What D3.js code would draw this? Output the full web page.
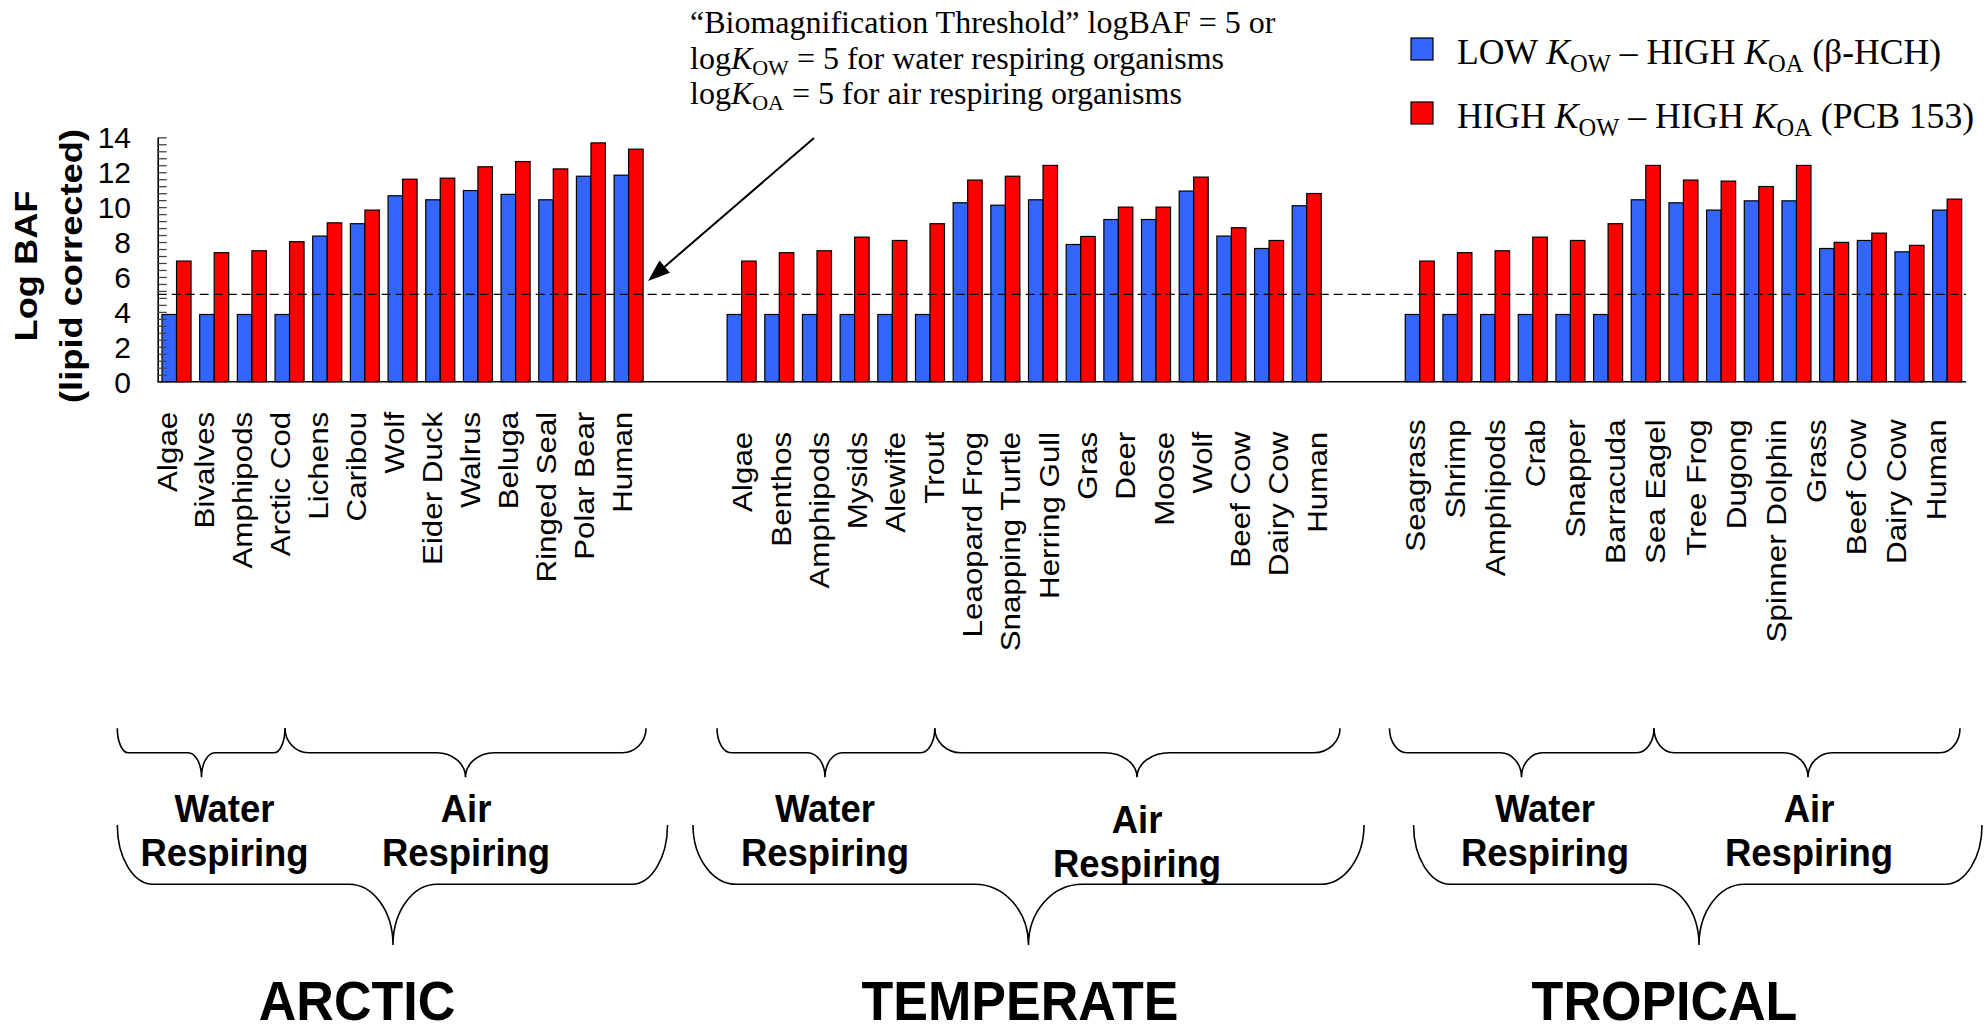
<!DOCTYPE html>
<html><head><meta charset="utf-8">
<script src="https://cdn.jsdelivr.net/npm/d3@7"></script>
<style>body{margin:0;background:#fff} svg{display:block}</style>
</head><body>
<svg id="c" width="1986" height="1032"></svg>
<script>
// ---------------- DATA ----------------
const arcticLabels = ["Algae","Bivalves","Amphipods","Arctic Cod","Lichens","Caribou","Wolf","Eider Duck","Walrus","Beluga","Ringed Seal","Polar Bear","Human"];
const arcticLow  = [3.85,3.85,3.85,3.85,8.34,9.05,10.65,10.42,10.95,10.73,10.42,11.77,11.83];
const arcticHigh = [6.91,7.39,7.50,8.02,9.10,9.83,11.60,11.66,12.31,12.61,12.19,13.68,13.32];

const temperateLabels = ["Algae","Benthos","Amphipods","Mysids","Alewife","Trout","Leaopard Frog","Snapping Turtle","Herring Gull","Gras","Deer","Moose","Wolf","Beef Cow","Dairy Cow","Human"];
const temperateLow  = [3.85,3.85,3.85,3.85,3.85,3.85,10.25,10.11,10.42,7.86,9.29,9.29,10.92,8.34,7.63,10.08];
const temperateHigh = [6.91,7.39,7.50,8.28,8.09,9.05,11.55,11.77,12.39,8.32,10.00,10.00,11.72,8.82,8.09,10.78];

const tropicalLabels = ["Seagrass","Shrimp","Amphipods","Crab","Snapper","Barracuda","Sea Eagel","Tree Frog","Dugong","Spinner Dolphin","Grass","Beef Cow","Dairy Cow","Human"];
const tropicalLow  = [3.85,3.85,3.85,3.85,3.85,3.85,10.42,10.25,9.83,10.36,10.36,7.63,8.09,7.44,9.83];
const tropicalHigh = [6.91,7.39,7.50,8.28,8.09,9.05,12.39,11.55,11.49,11.18,12.39,7.98,8.51,7.81,10.46];

const regionNames = ["ARCTIC","TEMPERATE","TROPICAL"];
const respirationNames = [["Water","Respiring"],["Air","Respiring"]];
const yTickValues = [0,2,4,6,8,10,12,14];
const threshold = 5;
const legendLow  = [["LOW ",""],["K","i"],["OW","sub"],[" – HIGH ",""],["K","i"],["OA","sub"],[" (β-HCH)",""]];
const legendHigh = [["HIGH ",""],["K","i"],["OW","sub"],[" – HIGH ",""],["K","i"],["OA","sub"],[" (PCB 153)",""]];
const noteLines = [
  [["“Biomagnification Threshold” logBAF = 5 or",""]],
  [["log",""],["K","i"],["OW","sub"],[" = 5 for water respiring organisms",""]],
  [["log",""],["K","i"],["OA","sub"],[" = 5 for air respiring organisms",""]]
];

// ---------------- SETUP ----------------
const SANS = "'Liberation Sans', Arial, Helvetica, sans-serif";
const SERIF = "'Liberation Serif', 'Times New Roman', serif";
const BLUE = "#3366ff", RED = "#ff0000";
const svg = d3.select("#c");

const regions = [
  {key:"arctic", labels:arcticLabels, low:arcticLow, high:arcticHigh, labelRange:[166.7,621.7], labelTop:411.7},
  {key:"temperate", labels:temperateLabels, low:temperateLow, high:temperateHigh, labelRange:[742.4,1317], labelTop:431.7},
  {key:"tropical", labels:tropicalLabels, low:tropicalLow, high:tropicalHigh, labelRange:[1414.8,1936.6], labelTop:419.3}
];

const slots = [];
regions.forEach((r,ri)=>{
  if(ri>0){ slots.push("gap"+ri+"a","gap"+ri+"b"); }
  r.low.forEach((_,i)=>slots.push(r.key+i));
});

const plotL = 157.7, plotR = 1966;
const x = d3.scaleBand().domain(slots).range([plotL, plotR]).paddingInner(0.23).paddingOuter(0.115);
const sub = d3.scaleBand().domain(["low","high"]).range([0, x.bandwidth()]);
const y = d3.scaleLinear().domain([0,14]).range([381.7,137.3]);
const color = d3.scaleOrdinal().domain(["low","high"]).range([BLUE, RED]);

// ---------------- BARS ----------------
const barData = [];
regions.forEach(r=>{
  r.low.forEach((v,i)=>{
    barData.push({slot:r.key+i, s:"low", v:v});
    barData.push({slot:r.key+i, s:"high", v:r.high[i]});
  });
});

svg.append("g").selectAll("rect").data(barData).join("rect")
  .attr("x", d=>x(d.slot)+sub(d.s))
  .attr("y", d=>y(d.v))
  .attr("width", sub.bandwidth())
  .attr("height", d=>y(0)-y(d.v))
  .attr("fill", d=>color(d.s))
  .attr("stroke", "#000")
  .attr("stroke-width", 1.2);

// threshold dashed line
svg.append("line")
  .attr("x1", plotL).attr("x2", plotR)
  .attr("y1", y(threshold)).attr("y2", y(threshold))
  .attr("stroke", "#000").attr("stroke-width", 1.4)
  .attr("stroke-dasharray", "9,5");

// x baseline
svg.append("line")
  .attr("x1", plotL).attr("x2", plotR)
  .attr("y1", y(0)).attr("y2", y(0))
  .attr("stroke", "#000").attr("stroke-width", 1.6);

// y axis with inward ticks
const minorTicks = d3.range(36).map(i=>+(i*0.4).toFixed(1));
const yAxis = d3.axisRight(y).tickValues(minorTicks).tickSize(9).tickSizeOuter(0).tickFormat("");
const ga = svg.append("g").attr("transform", `translate(${plotL},0)`).call(yAxis);
ga.select(".domain").attr("stroke","#000").attr("stroke-width",1.6);
ga.selectAll(".tick line").attr("stroke","#444").attr("stroke-width",1.3);

svg.append("g").selectAll("text").data(yTickValues).join("text")
  .attr("x", 131).attr("y", d=>y(d)).attr("dy","0.36em")
  .attr("text-anchor","end")
  .style("font-family", SANS).style("font-size","30px").attr("fill","#000")
  .text(d=>d);

// y title
[["Log BAF",36.5],["(lipid corrected)",81.5]].forEach(([t,bx])=>{
  svg.append("text")
    .attr("transform", `translate(${bx},266) rotate(-90) scale(1.17,1)`)
    .attr("text-anchor","middle")
    .style("font-family", SANS).style("font-size","31px").style("font-weight","bold")
    .text(t);
});

// category labels
regions.forEach(r=>{
  const lx = d3.scalePoint().domain(r.labels).range(r.labelRange);
  svg.append("g").selectAll("text").data(r.labels).join("text")
    .attr("transform", d=>`translate(${lx(d)},${r.labelTop}) rotate(-90) scale(1.12,1)`)
    .attr("dy","0.35em")
    .attr("text-anchor","end")
    .style("font-family", SANS).style("font-size","28px")
    .text(d=>d);
});

// ---------------- RICH TEXT HELPER ----------------
function rich(sel, parts, subSize, subShift){
  parts.forEach(([t,st],i)=>{
    const ts = sel.append("tspan").text(t);
    if(st==="i") ts.style("font-style","italic");
    if(st==="sub"){ ts.style("font-size", subSize+"px").attr("dy", subShift); }
    const prev = parts[i-1];
    if(st!=="sub" && prev && prev[1]==="sub") ts.attr("dy", -subShift);
  });
}

// legend
const legend = [{s:"low", parts:legendLow, base:64},{s:"high", parts:legendHigh, base:128}];
legend.forEach(l=>{
  svg.append("rect").attr("x",1411).attr("y",l.base-26).attr("width",22).attr("height",22)
    .attr("fill", color(l.s)).attr("stroke","#000").attr("stroke-width",1.2);
  const t = svg.append("text").attr("x",1457).attr("y",l.base)
    .style("font-family", SERIF).style("font-size","35.6px");
  rich(t, l.parts, 24.5, 8);
});

// annotation note
noteLines.forEach((parts,i)=>{
  const t = svg.append("text").attr("x",690).attr("y",33+35.5*i)
    .style("font-family", SERIF).style("font-size","32px");
  rich(t, parts, 22, 6);
});

// arrow
(function(){
  const x1=814,y1=138,x2=648,y2=281;
  const a = Math.atan2(y2-y1,x2-x1), L=22, w=8;
  const bx = x2 - L*Math.cos(a), by = y2 - L*Math.sin(a);
  svg.append("line").attr("x1",x1).attr("y1",y1).attr("x2",bx).attr("y2",by)
    .attr("stroke","#000").attr("stroke-width",2);
  svg.append("path")
    .attr("d", `M${x2},${y2} L${bx + w*Math.sin(a)},${by - w*Math.cos(a)} L${bx - w*Math.sin(a)},${by + w*Math.cos(a)} Z`)
    .attr("fill","#000");
})();

// ---------------- BRACES ----------------
function bracePath(x0,x1,xt,yTop,yMid,yTip){
  const w = x1-x0, r0 = 0.065*w, rt = 0.08*w, k=0.5523;
  const h0 = yMid-yTop, ht = yTip-yMid;
  return `M${x0},${yTop} C${x0},${yTop+k*h0} ${x0+r0-k*r0},${yMid} ${x0+r0},${yMid}`+
    ` L${xt-rt},${yMid} C${xt-rt+k*rt},${yMid} ${xt},${yTip-k*ht} ${xt},${yTip}`+
    ` C${xt},${yTip-k*ht} ${xt+rt-k*rt},${yMid} ${xt+rt},${yMid}`+
    ` L${x1-r0},${yMid} C${x1-r0+k*r0},${yMid} ${x1},${yTop+k*h0} ${x1},${yTop}`;
}
const braceLayout = [
  {small:[[117.3,285,201.5],[285,646,465.5]], big:[117.3,667.5,393], texts:[[224.5,0],[466,0]], title:357},
  {small:[[717,934.8,825],[934.8,1340,1137]], big:[693,1364,1028.5], texts:[[825,0],[1137,11.7]], title:1020},
  {small:[[1389.5,1654,1521.5],[1654,1960,1808]], big:[1413.6,1982,1699], texts:[[1545,0],[1809,0]], title:1664.5}
];
const gb = svg.append("g").attr("fill","none").attr("stroke","#000").attr("stroke-width",1.6);
braceLayout.forEach((b,ri)=>{
  b.small.forEach(s=>gb.append("path").attr("d", bracePath(s[0],s[1],s[2],728.3,752.7,777.3)));
  gb.append("path").attr("d", bracePath(b.big[0],b.big[1],b.big[2],825,884.3,945));
  b.texts.forEach(([cx,dy],j)=>{
    respirationNames[j].forEach((t,li)=>{
      const by = (li===0?821.7:865.7)+dy;
      svg.append("text")
        .attr("transform", `translate(${cx},${by}) scale(1,1.08)`)
        .attr("text-anchor","middle")
        .style("font-family", SANS).style("font-size","36.5px").style("font-weight","bold")
        .text(t);
    });
  });
  svg.append("text")
    .attr("transform", `translate(${b.title},1020) scale(1,1.06)`)
    .attr("text-anchor","middle")
    .style("font-family", SANS).style("font-size","52px").style("font-weight","bold")
    .text(regionNames[ri]);
});
</script>
</body></html>
